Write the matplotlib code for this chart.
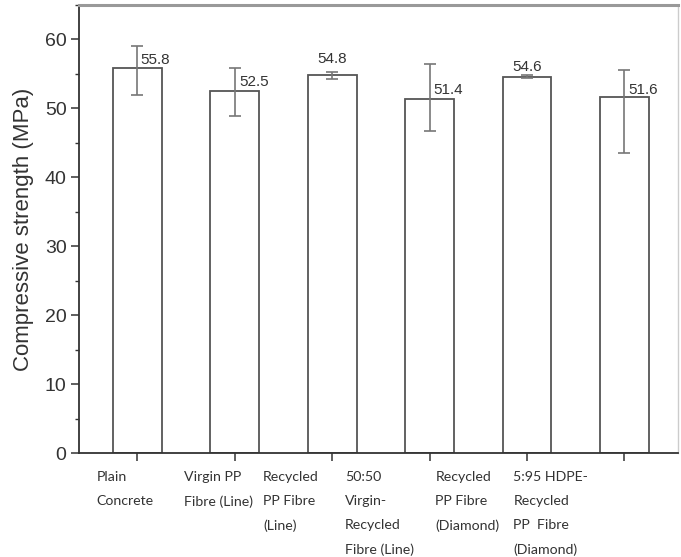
import matplotlib
matplotlib.use("Agg")
import matplotlib.pyplot as plt
from matplotlib.ticker import MultipleLocator
import numpy as np

categories = ["Plain\nConcrete", "Virgin PP\nFibre (Line)", "Recycled\nPP Fibre\n(Line)",
              "50:50\nVirgin-\nRecycled\nFibre (Line)", "Recycled\nPP Fibre\n(Diamond)",
              "5:95 HDPE-\nRecycled\nPP  Fibre\n(Diamond)"]
strength = [55.8, 52.5, 54.8, 51.4, 54.6, 51.6]
err_low = [3.9, 3.6, 0.5, 4.6, 0.2, 8.0]
err_high = [3.3, 3.4, 0.5, 5.0, 0.2, 4.0]
value_text = ["55.8", "52.5", "54.8", "51.4", "54.6", "51.6"]

# layout for the value labels (data offsets) and category labels
val_dx = [0.03, 0.05, 0.0, 0.04, 0.0, 0.04]
val_dy = [1.2, 1.4, 2.3, 1.3, 1.4, 1.1]
val_ha = ["left", "left", "center", "left", "center", "left"]
cat_label_x = [-0.42, 0.48, 1.29, 2.13, 3.06, 3.86]

fig = plt.figure(figsize=(6.81, 5.57), dpi=100)
ax = fig.add_axes([79/681, 1-453.3/557, (678-79)/681, (453.3-5)/557])

x = np.arange(len(strength))
ax.bar(x, strength, width=0.5, color="white", edgecolor="#555555", linewidth=1.3, zorder=2)
ax.errorbar(x, strength, yerr=[err_low, err_high], fmt="none", ecolor="#777777",
            elinewidth=1.2, capsize=4.3, capthick=1.2, zorder=3)

for i in range(len(strength)):
    ax.text(x[i] + val_dx[i], strength[i] + val_dy[i], value_text[i], ha=val_ha[i], va="center",
            fontsize=11, family="Liberation Sans", color="#333333", zorder=4)

ax.set_xlim(-0.6, 5.55)
ax.set_ylim(0, 65)
ax.yaxis.set_major_locator(MultipleLocator(10))
ax.yaxis.set_minor_locator(MultipleLocator(5))
ax.set_xticks(x)
ax.set_xticklabels([])
ax.tick_params(axis="y", which="major", length=6, width=1.1, colors="#333333", labelsize=14,
               labelcolor="#333333", pad=3)
ax.tick_params(axis="y", which="minor", length=3, width=1.0, colors="#333333")
ax.tick_params(axis="x", which="major", length=6, width=1.1, colors="#333333")
for lab in ax.get_yticklabels():
    lab.set_family("Liberation Sans")

ax.set_ylabel("Compressive strength (MPa)", fontsize=16, family="Liberation Sans",
              color="#333333", labelpad=8)

for i, lab in enumerate(categories):
    ax.text(cat_label_x[i], -2.6, lab, ha="left", va="top", fontsize=10.2, family="Lato",
            color="#333333", linespacing=2.2, transform=ax.transData, clip_on=False)

ax.spines["left"].set_color("#333333")
ax.spines["left"].set_linewidth(1.3)
ax.spines["bottom"].set_color("#333333")
ax.spines["bottom"].set_linewidth(1.3)
ax.spines["top"].set_color("#999999")
ax.spines["top"].set_linewidth(2.2)
ax.spines["right"].set_color("#cccccc")
ax.spines["right"].set_linewidth(1.0)

fig.savefig("out.png", dpi=100)
